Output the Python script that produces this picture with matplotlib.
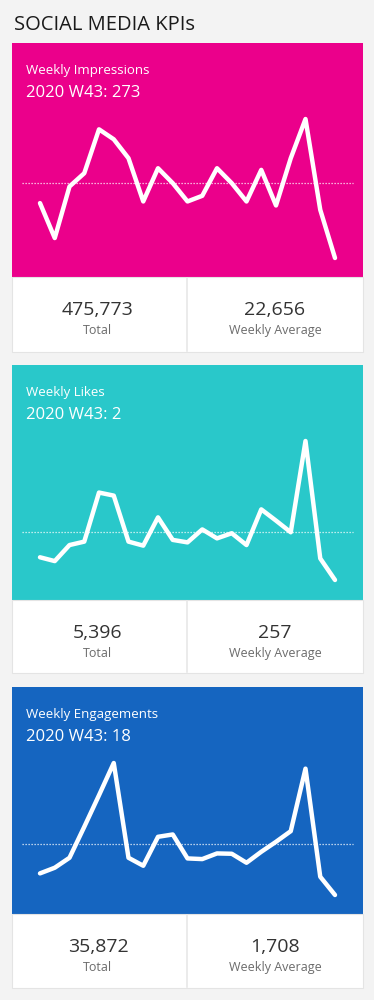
import matplotlib
matplotlib.use("Agg")
import matplotlib.pyplot as plt
from matplotlib.patches import Rectangle

plt.rcParams['font.family'] = ['Open Sans', 'DejaVu Sans']

# weekly values (21 weeks)
impressions = [16700, 6240, 21660, 25640, 38770, 35790, 30120, 17190, 27130, 22660, 17190,
               18880, 27130, 22660, 17190, 26640, 15990, 30120, 41860, 14700, 273]
likes = [121, 101, 185, 203, 460, 444, 203, 182, 330, 212, 199,
         267, 220, 247, 185, 372, 313, 252, 730, 115, 2]
engagements = [741, 930, 1263, 2297, 3354, 4432, 1263, 996, 1964, 2042, 1241,
               1219, 1408, 1397, 1096, 1463, 1797, 2153, 4243, 629, 18]

titles = ["Weekly Impressions", "Weekly Likes", "Weekly Engagements"]
totals = ["475,773", "5,396", "35,872"]
averages = ["22,656", "257", "1,708"]
latest_label = "2020 W43"
colors = ["#eb008b", "#29c8ca", "#1565c0"]

W, H = 374, 1000
fig = plt.figure(figsize=(W / 100, H / 100), dpi=100)
fig.patch.set_facecolor("#f3f3f3")

def box(x0, y0, x1, y1):
    return [x0 / W, 1 - y1 / H, (x1 - x0) / W, (y1 - y0) / H]

bg = fig.add_axes([0, 0, 1, 1])
bg.set_xlim(0, W)
bg.set_ylim(H, 0)
bg.axis("off")

bg.text(14, 30, "SOCIAL MEDIA KPIs", fontsize=14.5, color="#1a1a1a", va="baseline")

# (colour top, colour bottom, white bottom, line top, line bottom)
panels = [(43, 277, 352, 119, 258), (365, 600, 673, 441, 580), (687, 914, 988, 763, 895)]
series = [impressions, likes, engagements]

for i, (top, mid, bot, ltop, lbot) in enumerate(panels):
    vals = series[i]
    bg.add_patch(Rectangle((12, top), 351, mid - top, facecolor=colors[i], edgecolor="none"))
    bg.add_patch(Rectangle((12, mid), 351, bot - mid, facecolor="white", edgecolor="#e4e4e4", lw=0.8))
    bg.plot([187, 187], [mid + 1, bot - 1], color="#e8e8e8", lw=1.2)

    bg.text(26, top + 31, titles[i], fontsize=9.5, color="white", va="baseline")
    bg.text(26, top + 54, f"{latest_label}: {vals[-1]}", fontsize=12, color="white", va="baseline")

    bg.text(98, mid + 38, totals[i], fontsize=14, color="#333333", ha="center", va="baseline")
    bg.text(98, mid + 57, "Total", fontsize=9, color="#6b6b6b", ha="center", va="baseline")
    bg.text(275, mid + 38, averages[i], fontsize=14, color="#333333", ha="center", va="baseline")
    bg.text(275, mid + 57, "Weekly Average", fontsize=9, color="#6b6b6b", ha="center", va="baseline")

    ax = fig.add_axes(box(22, ltop, 353, lbot))
    ax.patch.set_alpha(0)
    ax.axis("off")
    n = len(vals)
    x = list(range(n))
    pad = 18 / 295 * (n - 1)
    ax.set_xlim(-pad, n - 1 + pad)
    ax.set_ylim(min(vals), max(vals))
    avg = sum(vals) / n
    ax.axhline(avg, color="white", lw=0.9, ls=(0, (1, 1.4)), alpha=0.9, clip_on=False)
    ax.plot(x, vals, color="white", lw=3.2, solid_joinstyle="round",
            solid_capstyle="round", clip_on=False)

fig.savefig("out.png", dpi=100, facecolor=fig.get_facecolor())
